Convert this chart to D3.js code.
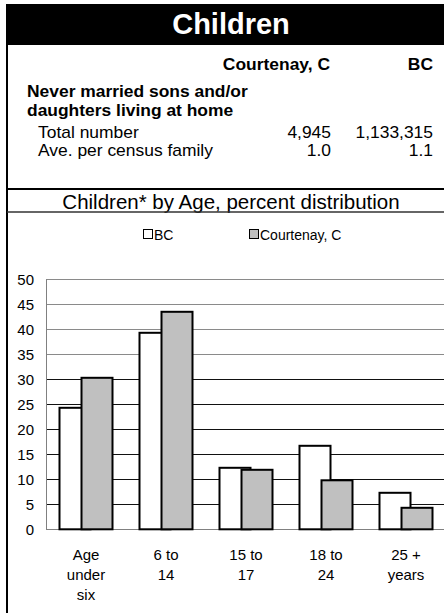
<!DOCTYPE html>
<html><head><meta charset="utf-8">
<script src="https://cdn.jsdelivr.net/npm/d3@7"></script>
<style>body{margin:0;background:#fff;} svg{display:block;font-family:Arial,"Liberation Sans",sans-serif;}</style>
</head><body>
<script>
const categories = [["Age","under","six"],["6 to","14"],["15 to","17"],["18 to","24"],["25 +","years"]];
const seriesNames = ["BC","Courtenay, C"];
const bcValues = [24.3, 39.3, 12.3, 16.7, 7.3];
const courtenayValues = [30.3, 43.5, 11.9, 9.8, 4.3];
const yTicks = [0,5,10,15,20,25,30,35,40,45,50];
const tableRows = [["Total number","4,945","1,133,315"],["Ave. per census family","1.0","1.1"]];

const W = 444, H = 613;
const svg = d3.select("body").append("svg").attr("width", W).attr("height", H);

function txt(x, y, s, size, opts = {}) {
  const t = svg.append("text")
    .attr("transform", `translate(${x},${y}) scale(${opts.sx || 1},1)`)
    .attr("font-size", size)
    .attr("text-anchor", opts.anchor || "start")
    .attr("fill", opts.fill || "#000")
    .text(s);
  if (opts.bold) t.attr("font-weight", "bold");
  return t;
}

// header
svg.append("rect").attr("x",6).attr("y",4).attr("width",W-6).attr("height",41).attr("fill","#000");
txt(231, 34, "Children", 29, {anchor:"middle", bold:true, fill:"#fff"});
// left border
svg.append("line").attr("x1",7).attr("x2",7).attr("y1",4).attr("y2",H).attr("stroke","#000").attr("stroke-width",2);

const SX = 1.09, FS = 16;
txt(330, 70, seriesNames[1], FS, {anchor:"end", bold:true, sx:SX});
txt(433, 70, seriesNames[0], FS, {anchor:"end", bold:true, sx:SX});
txt(27, 97, "Never married sons and/or", FS, {bold:true, sx:SX});
txt(27, 116, "daughters living at home", FS, {bold:true, sx:SX});
tableRows.forEach((r,i)=>{
  const y = 138 + i*18;
  txt(38, y, r[0], FS, {sx:SX});
  txt(331, y, r[1], FS, {anchor:"end", sx:SX});
  txt(433, y, r[2], FS, {anchor:"end", sx:SX});
});

svg.append("line").attr("x1",7).attr("x2",W).attr("y1",189).attr("y2",189).attr("stroke","#000").attr("stroke-width",2);
txt(231, 209, "Children* by Age, percent distribution", 20.5, {anchor:"middle"});
svg.append("line").attr("x1",7).attr("x2",W).attr("y1",212).attr("y2",212).attr("stroke","#333").attr("stroke-width",1.5);

// legend
const leg = [{name:seriesNames[0], fill:"#fff", x:143},{name:seriesNames[1], fill:"#c0c0c0", x:249}];
leg.forEach(l=>{
  svg.append("rect").attr("x",l.x+0.5).attr("y",229.5).attr("width",9).attr("height",9).attr("fill",l.fill).attr("stroke","#000").attr("stroke-width",1);
  txt(l.x+11, 239.5, l.name, 14);
});

// chart
const plot = {left:46, right:446, top:279.3, bottom:529.3};
const y = d3.scaleLinear().domain([0,50]).range([plot.bottom, plot.top]);
const x = d3.scaleBand().domain(d3.range(categories.length)).range([plot.left, plot.right]);
const g = svg.append("g");

// gridlines
g.selectAll("line.grid").data(yTicks).join("line")
  .attr("x1",plot.left).attr("x2",W).attr("y1",d=>Math.round(y(d))+0.5).attr("y2",d=>Math.round(y(d))+0.5)
  .attr("stroke",d=>d===0?"#808080":(d>=35?"#8a8a8a":"#111")).attr("stroke-width",1);
// y axis line
g.append("line").attr("x1",plot.left+0.5).attr("x2",plot.left+0.5).attr("y1",plot.top).attr("y2",plot.bottom)
  .attr("stroke","#808080");

const yAxis = d3.axisLeft(y).tickValues(yTicks).tickSize(0).tickPadding(12);
const ya = svg.append("g").attr("transform",`translate(${plot.left},0)`).call(yAxis);
ya.select(".domain").remove();
ya.selectAll("text").attr("font-size",15).attr("font-family","Arial,'Liberation Sans',sans-serif").attr("fill","#000");

const barW = 31, overlap = 9;
const drawBars = (vals, fill, offset) => {
  g.selectAll(null).data(vals).join("rect")
    .attr("x",(d,i)=>x(i)+x.bandwidth()/2 + offset)
    .attr("y",d=>y(d)).attr("width",barW).attr("height",d=>plot.bottom-y(d))
    .attr("fill",fill).attr("stroke","#000").attr("stroke-width",2);
};
const total = 2*barW - overlap;
drawBars(bcValues, "#fff", -total/2);
drawBars(courtenayValues, "#c0c0c0", -total/2 + barW - overlap);

// x labels
categories.forEach((lines,i)=>{
  const t = svg.append("text").attr("text-anchor","middle").attr("font-size",15);
  lines.forEach((ln,j)=>{
    t.append("tspan").attr("x",x(i)+x.bandwidth()/2).attr("y",560+j*20).text(ln);
  });
});
</script>
</body></html>
